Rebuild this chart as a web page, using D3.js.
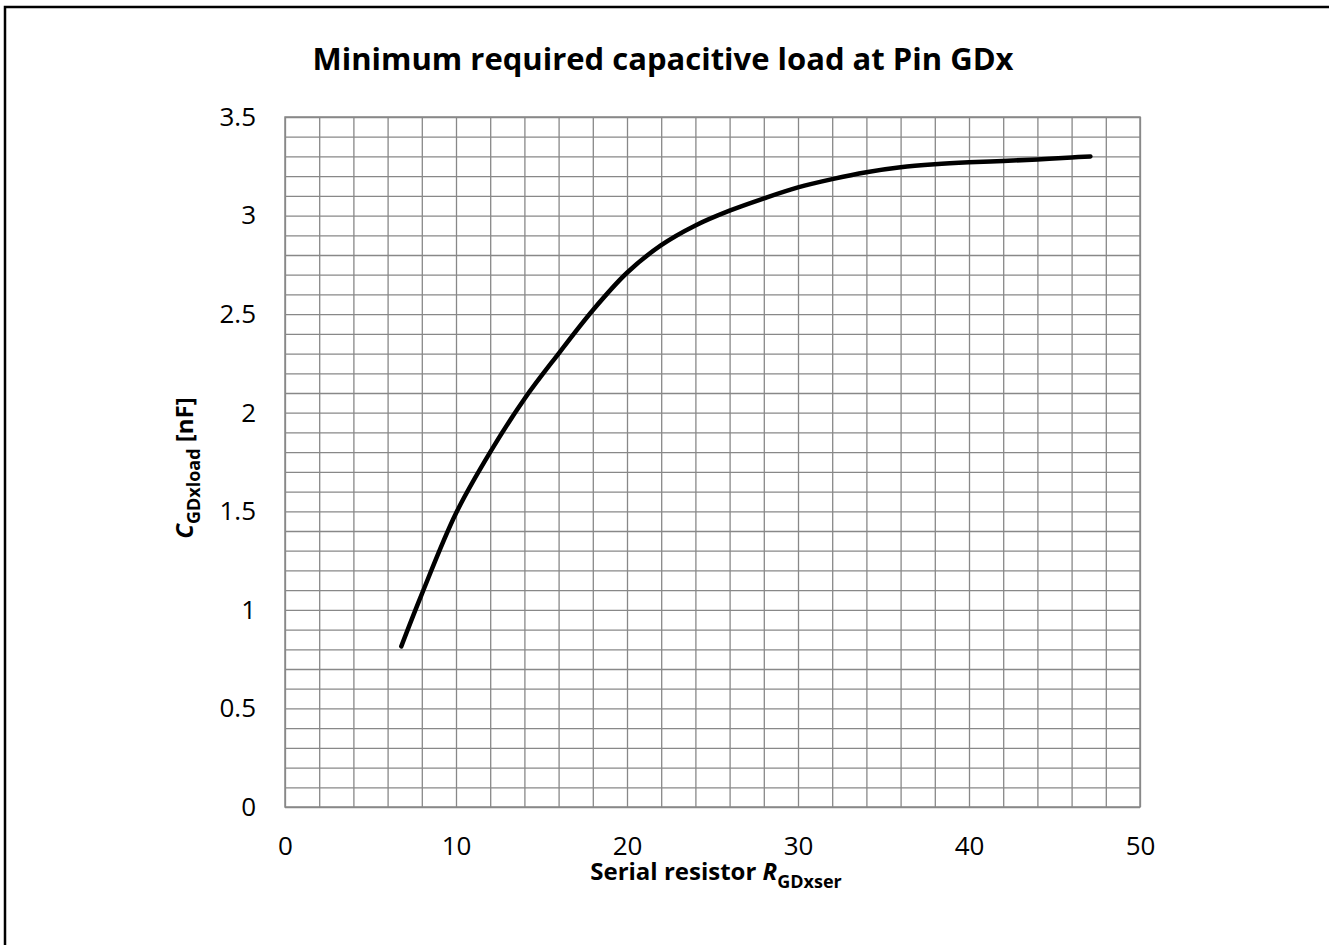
<!DOCTYPE html>
<html lang="en">

<head>
    <meta charset="UTF-8">
    <title>Minimum required capacitive load at Pin GDx</title>
    <script src="https://d3js.org/d3.v7.min.js"></script>
    <style>
        body { margin: 0; background: #fff; }
        svg { display: block; font-family: "Open Sans", "DejaVu Sans", sans-serif; }
        .grid line, .grid path { stroke: #888; stroke-width: 1.3; }
        .tick text { fill: #000; }
    </style>
</head>

<body>
    <svg width="1329" height="945"></svg>
    <script>
        // serial resistor R_GDxser
        var rValues = [6.8, 8, 10, 12, 14, 16, 18, 20, 22, 24, 26, 28, 30, 32, 34, 36, 38, 40, 42, 44, 46, 47.1];
        // minimum load C_GDxload [nF]
        var cValues = [0.815, 1.08, 1.49, 1.80, 2.07, 2.30, 2.52, 2.71, 2.85, 2.95, 3.025, 3.087, 3.143, 3.185, 3.22, 3.245, 3.26, 3.27, 3.277, 3.285, 3.295, 3.30];
        var xTicks = [0, 10, 20, 30, 40, 50];
        var yTicks = [0, 0.5, 1, 1.5, 2, 2.5, 3, 3.5];

        var data = rValues.map(function (r, i) { return { r: r, c: cValues[i] }; });

        var svg = d3.select("svg");
        var plotLeft = 285, plotTop = 117, width = 855, height = 690;

        // outer frame
        svg.append("rect")
            .attr("x", 5).attr("y", 7)
            .attr("width", 1340).attr("height", 960)
            .attr("fill", "none").attr("stroke", "#000").attr("stroke-width", 2.5);

        var x = d3.scaleLinear().domain([0, 50]).range([0, width]);
        var y = d3.scaleLinear().domain([0, 3.5]).range([height, 0]);

        var g = svg.append("g").attr("transform", "translate(" + plotLeft + "," + plotTop + ")");

        // grid lines
        g.append("g").attr("class", "grid")
            .call(d3.axisBottom(x).tickValues(d3.range(0, 50.01, 2)).tickSize(height).tickFormat(""))
            .call(function (s) { s.select(".domain").remove(); });
        g.append("g").attr("class", "grid")
            .call(d3.axisLeft(y).tickValues(d3.range(0, 36).map(function (i) { return i / 10; })).tickSize(-width).tickFormat(""))
            .call(function (s) { s.select(".domain").remove(); });
        g.append("rect")
            .attr("width", width).attr("height", height)
            .attr("fill", "none").attr("stroke", "#888").attr("stroke-width", 1.5);

        // axes labels
        var xAxis = g.append("g")
            .attr("transform", "translate(0," + height + ")")
            .call(d3.axisBottom(x).tickValues(xTicks).tickSize(0).tickPadding(30).tickFormat(d3.format("d")));
        var yAxis = g.append("g")
            .call(d3.axisLeft(y).tickValues(yTicks).tickSize(0).tickPadding(29).tickFormat(function (d) { return d; }));
        [xAxis, yAxis].forEach(function (a) {
            a.select(".domain").remove();
            a.selectAll("text").attr("font-size", 26).attr("font-family", "Open Sans");
        });

        // curve
        var line = d3.line()
            .x(function (d) { return x(d.r); })
            .y(function (d) { return y(d.c); })
            .curve(d3.curveCatmullRom.alpha(0.5));
        g.append("path")
            .datum(data)
            .attr("d", line)
            .attr("fill", "none")
            .attr("stroke", "#000")
            .attr("stroke-width", 4.5)
            .attr("stroke-linecap", "round");

        // title
        svg.append("text")
            .attr("x", 663).attr("y", 70)
            .attr("text-anchor", "middle")
            .attr("font-size", 31).attr("font-weight", "bold")
            .text("Minimum required capacitive load at Pin GDx");

        // x label
        var xl = svg.append("text")
            .attr("x", 716).attr("y", 880)
            .attr("text-anchor", "middle")
            .attr("font-size", 24).attr("font-weight", "bold");
        xl.append("tspan").text("Serial resistor ");
        xl.append("tspan").attr("font-style", "italic").text("R");
        xl.append("tspan").attr("font-size", 18).attr("dy", 8).text("GDxser");

        // y label
        var yl = svg.append("text")
            .attr("transform", "translate(193,468) rotate(-90)")
            .attr("text-anchor", "middle")
            .attr("font-size", 24).attr("font-weight", "bold");
        yl.append("tspan").attr("font-style", "italic").text("C");
        yl.append("tspan").attr("font-size", 18).attr("dy", 7).text("GDxload");
        yl.append("tspan").attr("dy", -7).text(" [nF]");
    </script>
</body>

</html>
